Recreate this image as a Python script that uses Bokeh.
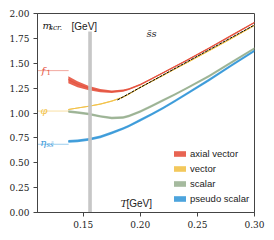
from bokeh.plotting import figure
from bokeh.models import Label, Legend, LegendItem, Range1d, FixedTicker
from bokeh.embed import file_html
from bokeh.resources import INLINE

# temperatures (GeV)
T = [0.137, 0.145, 0.155, 0.165, 0.175, 0.185, 0.19, 0.20, 0.21, 0.22, 0.23, 0.24, 0.26, 0.28, 0.30]

# screening masses (GeV): centre values and half-widths
axial_mid = [1.335, 1.29, 1.25, 1.225, 1.214, 1.225, 1.24, 1.285, 1.345, 1.405, 1.465, 1.525, 1.65, 1.78, 1.91]
axial_hw = [0.035, 0.03, 0.022, 0.017, 0.013, 0.011, 0.01, 0.009, 0.008, 0.008, 0.008, 0.008, 0.008, 0.008, 0.008]
vector_mid = [1.035, 1.05, 1.068, 1.09, 1.12, 1.16, 1.19, 1.258, 1.318, 1.378, 1.44, 1.5, 1.625, 1.75, 1.88]
vector_hw = [0.006] * 15
scalar_mid = [1.015, 1.005, 0.99, 0.966, 0.95, 0.955, 0.97, 1.015, 1.07, 1.128, 1.185, 1.245, 1.37, 1.51, 1.65]
scalar_hw = [0.012] * 15
pseudo_mid = [0.715, 0.72, 0.735, 0.76, 0.8, 0.845, 0.87, 0.928, 0.988, 1.05, 1.118, 1.188, 1.33, 1.48, 1.625]
pseudo_hw = [0.013] * 15

# free-theory line 2*pi*T
free_T = [0.18, 0.30]
free_m = [1.131, 1.885]

# vacuum masses (GeV)
vac_T = [0.11, 0.137]
f1_mass = 1.426
phi_mass = 1.0195
eta_mass = 0.6858

# pseudo-critical temperature band
tc_center = 0.156
tc_width = 0.0032
tc_top = 1.82

series_names = ["axial vector", "vector", "scalar", "pseudo scalar"]
colors = ["#E5533F", "#F2C24A", "#9BB293", "#3A9AD9"]
mids = [axial_mid, vector_mid, scalar_mid, pseudo_mid]
hws = [axial_hw, vector_hw, scalar_hw, pseudo_hw]

p = figure(width=274, height=240, output_backend="svg", toolbar_location=None,
           x_range=Range1d(0.11, 0.30), y_range=Range1d(0.0, 2.0))
p.min_border_left = 37
p.min_border_right = 20
p.min_border_top = 13
p.min_border_bottom = 28
p.grid.visible = False
p.outline_line_color = "#444444"
p.outline_line_width = 1
p.background_fill_color = "white"
p.border_fill_color = "white"

p.xaxis.ticker = FixedTicker(ticks=[0.15, 0.20, 0.25, 0.30])
p.yaxis.ticker = FixedTicker(ticks=[0.0, 0.25, 0.5, 0.75, 1.0, 1.25, 1.5, 1.75, 2.0])
p.xaxis.major_label_overrides = {0.15: "0.15", 0.2: "0.20", 0.25: "0.25", 0.3: "0.30"}
p.yaxis.major_label_overrides = {0.0: "0.00", 0.25: "0.25", 0.5: "0.50", 0.75: "0.75",
                                 1.0: "1.00", 1.25: "1.25", 1.5: "1.50", 1.75: "1.75", 2.0: "2.00"}
for ax in (p.xaxis, p.yaxis):
    ax.major_tick_out = 4
    ax.major_tick_in = 0
    ax.minor_tick_line_color = None
    ax.axis_line_color = "#444444"
    ax.major_tick_line_color = "#444444"
    ax.major_label_text_font = "DejaVu Serif"
    ax.major_label_text_font_size = "9px"
    ax.major_label_text_color = "#222222"
    ax.major_label_standoff = 4

items = []
for name, col, mid, hw in zip(series_names, colors, mids, hws):
    lo = [m - h for m, h in zip(mid, hw)]
    hi = [m + h for m, h in zip(mid, hw)]
    r = p.varea(x=T, y1=lo, y2=hi, fill_color=col, fill_alpha=0.9)
    p.line(T, mid, line_color=col, line_width=1)
    items.append(LegendItem(label=name, renderers=[r]))

p.line(free_T, free_m, line_color="black", line_width=1, line_dash="3 1")

# vacuum masses as dotted lines
for mass, col in zip([f1_mass, phi_mass, eta_mass], [colors[0], colors[1], colors[3]]):
    p.line(vac_T, [mass, mass], line_color=col, line_width=1, line_dash="1 1")

# pseudo-critical band
p.vbar(x=[tc_center], width=tc_width, top=[tc_top], bottom=[0.0],
       fill_color="#C4C4C4", line_color=None, fill_alpha=0.95)

def lab(x, y, text, font="DejaVu Serif", size="10px", style="italic", color="#222222"):
    p.add_layout(Label(x=x, y=y, text=text, text_font=font, text_font_size=size,
                       text_font_style=style, text_color=color, text_baseline="alphabetic",
                       text_align="left"))

lab(0.1144, 1.879, "m")
lab(0.1201, 1.862, "scr.", size="7.5px")
lab(0.1398, 1.874, "[GeV]", font="Liberation Sans", size="10px", style="normal")
lab(0.2054, 1.799, "s\u0304s")
lab(0.1827, 0.092, "T")
lab(0.1879, 0.092, "[GeV]", font="Liberation Sans", size="10px", style="normal")
lab(0.1135, 1.432, "f", color=colors[0])
lab(0.1179, 1.417, "1", size="7px", style="normal", color=colors[0])
lab(0.1126, 1.025, "\u03c6", color=colors[1])
lab(0.1125, 0.7035, "\u03b7", color=colors[3])
lab(0.1178, 0.683, "ss\u0304", size="7px", color=colors[3])

legend = Legend(items=items, location=(135, 8))
legend.padding = 0
legend.margin = 0
legend.border_line_color = None
legend.background_fill_alpha = 0
legend.glyph_width = 15
legend.glyph_height = 7
legend.label_height = 10
legend.spacing = 4
legend.label_standoff = 3
legend.label_text_font = "Liberation Sans"
legend.label_text_font_size = "9.5px"
legend.label_text_color = "#222222"
legend.label_text_baseline = "middle"
p.add_layout(legend)

open("out.html", "w").write(file_html(p, INLINE))
